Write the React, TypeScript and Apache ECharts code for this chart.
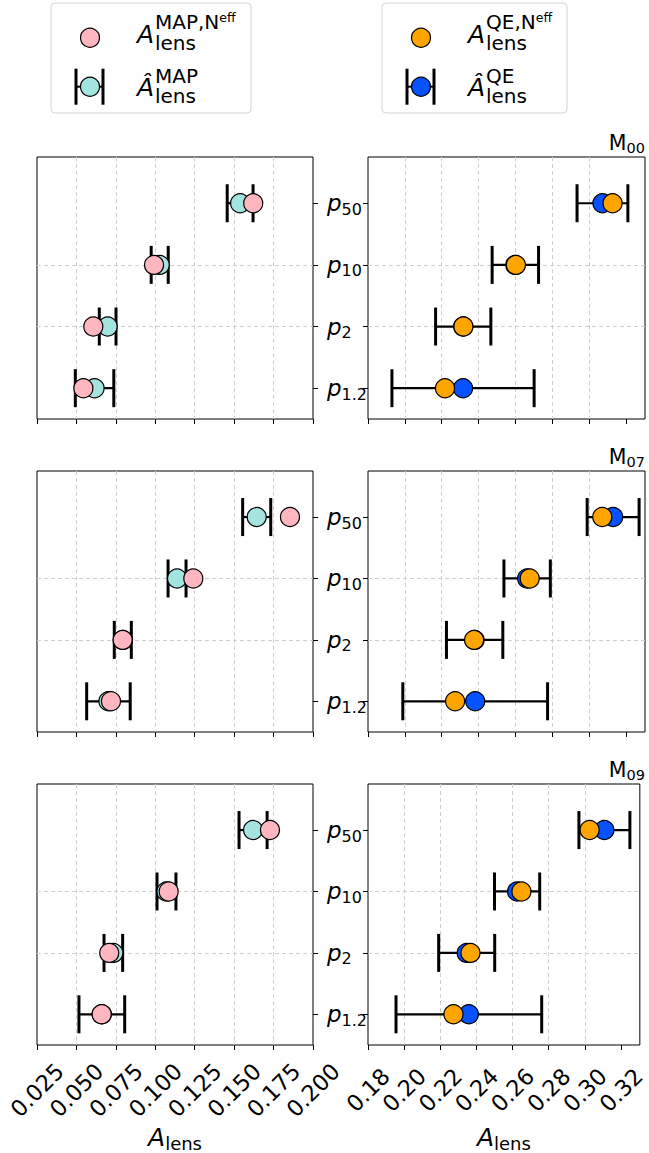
import React, { useEffect, useRef } from "react";
import * as echarts from "echarts";

const FONT = "DejaVu Sans";

// Rows, bottom to top (y positions 0..3)
const pSubscripts = ["1.2", "2", "10", "50"];
const rowValues = [0, 1, 2, 3];

// Tick labels
const mapTicks = [0.025, 0.05, 0.075, 0.1, 0.125, 0.15, 0.175, 0.2];
const qeTicks = [0.18, 0.2, 0.22, 0.24, 0.26, 0.28, 0.3, 0.32];

const models = ["00", "07", "09"];

// MAP estimates: A_lens^{MAP,Neff} and \hat A_lens^{MAP} with 1-sigma errors
const mapNeff00 = [0.0544, 0.0607, 0.0992, 0.1621];
const mapHat00 = [0.0615, 0.0698, 0.1028, 0.1538];
const mapErr00 = [0.0122, 0.0053, 0.0054, 0.0082];

const mapNeff07 = [0.0719, 0.0793, 0.1241, 0.1854];
const mapHat07 = [0.0703, 0.0794, 0.1138, 0.1643];
const mapErr07 = [0.0138, 0.0054, 0.0057, 0.0089];

const mapNeff09 = [0.066, 0.0708, 0.1085, 0.1727];
const mapHat09 = [0.0661, 0.0734, 0.1071, 0.162];
const mapErr09 = [0.0145, 0.0059, 0.006, 0.0089];

// QE estimates
const qeNeff00 = [0.2218, 0.2318, 0.2603, 0.3128];
const qeHat00 = [0.2316, 0.2317, 0.26, 0.3073];
const qeErr00 = [0.0386, 0.015, 0.0126, 0.0138];

const qeNeff07 = [0.2273, 0.2376, 0.2678, 0.3072];
const qeHat07 = [0.2382, 0.2379, 0.2664, 0.3131];
const qeErr07 = [0.0393, 0.0153, 0.0126, 0.0141];

const qeNeff09 = [0.2273, 0.2367, 0.2649, 0.3026];
const qeHat09 = [0.2358, 0.2346, 0.2625, 0.3108];
const qeErr09 = [0.0403, 0.0155, 0.0125, 0.0141];

const mapNeff = [mapNeff00, mapNeff07, mapNeff09];
const mapHat = [mapHat00, mapHat07, mapHat09];
const mapErr = [mapErr00, mapErr07, mapErr09];
const qeNeff = [qeNeff00, qeNeff07, qeNeff09];
const qeHat = [qeHat00, qeHat07, qeHat09];
const qeErr = [qeErr00, qeErr07, qeErr09];

const COLORS = {
  mapNeff: "#ffb6c1",
  mapHat: "#a3e4e1",
  qeNeff: "#ffa500",
  qeHat: "#0652ff",
};

const GRID_TOPS = [157, 471, 784];
const GRID_HEIGHTS = [262, 261, 261];
const LEFT = { left: 37, width: 276 };
const RIGHT = { left: 368, width: 277 };

const splitLineStyle = {
  show: true,
  showMinLine: false,
  showMaxLine: false,
  lineStyle: { color: "#cfcfcf", width: 1, type: [4, 3] },
};

const errorBarItem = (_params: any, api: any) => {
  const y = api.value(2);
  const a = api.coord([api.value(0), y]);
  const b = api.coord([api.value(1), y]);
  const h = 19;
  return {
    type: "group",
    children: [
      {
        type: "line",
        shape: { x1: a[0], y1: a[1], x2: b[0], y2: b[1] },
        style: { stroke: "#000", lineWidth: 2.2 },
      },
      {
        type: "line",
        shape: { x1: a[0], y1: a[1] - h, x2: a[0], y2: a[1] + h },
        style: { stroke: "#000", lineWidth: 3 },
      },
      {
        type: "line",
        shape: { x1: b[0], y1: b[1] - h, x2: b[0], y2: b[1] + h },
        style: { stroke: "#000", lineWidth: 3 },
      },
    ],
  };
};

function txt(text: string, x: number, y: number, fontSize: number, opts: any = {}) {
  return {
    type: "text",
    silent: true,
    style: {
      text,
      x,
      y,
      fill: "#000",
      fontSize,
      fontFamily: FONT,
      fontStyle: opts.italic ? "italic" : "normal",
      textAlign: opts.align || "left",
      align: opts.align || "left",
      textVerticalAlign: "middle",
      verticalAlign: "middle",
      rich: opts.rich,
    },
  };
}

// Superscript with a smaller raised tail, e.g. MAP,N^eff
const supRich = {
  a: { fontSize: 20, fontFamily: FONT, color: "#000", lineHeight: 22 },
  b: {
    fontSize: 12.5,
    fontFamily: FONT,
    color: "#000",
    lineHeight: 12,
    verticalAlign: "top",
  },
};

function legendBox(
  boxX: number,
  boxW: number,
  sup: string,
  neffColor: string,
  hatColor: string
) {
  const mx = boxX + 39;
  const tx = boxX + 86;
  const r1 = 37.7;
  const r2 = 86.7;
  return [
    {
      type: "rect",
      silent: true,
      shape: { x: boxX, y: 3, width: boxW, height: 110, r: 4 },
      style: { fill: "#fff", stroke: "#d5d5d5", lineWidth: 1 },
    },
    {
      type: "circle",
      silent: true,
      shape: { cx: mx, cy: r1, r: 9.5 },
      style: { fill: neffColor, stroke: "#000", lineWidth: 1.2 },
    },
    txt("A", tx, 34.4, 25, { italic: true }),
    txt(`{a|${sup},N}{b|eff}`, tx + 18, 22.1, 20, { rich: supRich }),
    txt("lens", tx + 18, 43.1, 20),
    {
      type: "line",
      silent: true,
      shape: { x1: mx - 14, y1: r2, x2: mx + 13, y2: r2 },
      style: { stroke: "#000", lineWidth: 2 },
    },
    {
      type: "line",
      silent: true,
      shape: { x1: mx - 14, y1: r2 - 18, x2: mx - 14, y2: r2 + 18 },
      style: { stroke: "#000", lineWidth: 3 },
    },
    {
      type: "line",
      silent: true,
      shape: { x1: mx + 13, y1: r2 - 18, x2: mx + 13, y2: r2 + 18 },
      style: { stroke: "#000", lineWidth: 3 },
    },
    {
      type: "circle",
      silent: true,
      shape: { cx: mx, cy: r2, r: 9.5 },
      style: { fill: hatColor, stroke: "#000", lineWidth: 1.2 },
    },
    txt("\u00C2", tx, 87.4, 25, { italic: true }),
    txt(sup, tx + 18, 76.4, 20),
    txt("lens", tx + 18, 96, 20),
  ];
}

const titleRich = {
  m: { fontSize: 20.5, fontFamily: FONT, color: "#000", lineHeight: 24 },
  s: {
    fontSize: 14.5,
    fontFamily: FONT,
    color: "#000",
    lineHeight: 14,
    verticalAlign: "bottom",
  },
};

function buildOption() {
  const grid: any[] = [];
  const xAxis: any[] = [];
  const yAxis: any[] = [];
  const series: any[] = [];
  const graphic: any[] = [];

  GRID_TOPS.forEach((top, i) => {
    const last = i === GRID_TOPS.length - 1;
    [0, 1].forEach((side) => {
      const gi = i * 2 + side;
      const isQE = side === 1;
      const pos = isQE ? RIGHT : LEFT;
      grid.push({
        left: pos.left,
        width: pos.width,
        top,
        height: GRID_HEIGHTS[i],
        show: true,
        borderColor: "#000",
        borderWidth: 1,
        backgroundColor: "transparent",
      });

      const ticks = isQE ? qeTicks : mapTicks;
      xAxis.push({
        type: "value",
        gridIndex: gi,
        position: "bottom",
        min: isQE ? 0.18 : 0.025,
        max: isQE ? 0.3304 : 0.2,
        interval: isQE ? 0.02 : 0.025,
        axisLine: { show: false, onZero: false },
        axisTick: {
          show: true,
          inside: false,
          length: 5,
          customValues: ticks,
          lineStyle: { color: "#000", width: 1 },
        },
        axisLabel: {
          show: last,
          customValues: ticks,
          rotate: 45,
          align: "center",
          verticalAlign: "middle",
          margin: 45,
          interval: 0,
          hideOverlap: false,
          showMinLabel: true,
          showMaxLabel: true,
          fontSize: 22.5,
          fontFamily: FONT,
          color: "#000",
          formatter: (v: number) => v.toFixed(isQE ? 2 : 3),
        },
        splitLine: splitLineStyle,
        name: last ? "{a|A}{s|lens}" : "",
        nameLocation: "middle",
        nameGap: 77,
        nameTextStyle: {
          rich: {
            a: {
              fontSize: 25,
              fontStyle: "italic",
              fontFamily: FONT,
              color: "#000",
              lineHeight: 30,
            },
            s: {
              fontSize: 18,
              fontFamily: FONT,
              color: "#000",
              lineHeight: 18,
              verticalAlign: "bottom",
            },
          },
        },
      });

      yAxis.push({
        type: "value",
        gridIndex: gi,
        min: -0.5,
        max: 3.75,
        position: isQE ? "left" : "right",
        axisLine: { show: false, onZero: false },
        axisTick: {
          show: true,
          inside: false,
          length: 5,
          customValues: rowValues,
          lineStyle: { color: "#000", width: 1 },
        },
        axisLabel: {
          show: isQE,
          customValues: rowValues,
          align: "left",
          margin: 41,
          formatter: (v: number) => `{p|p}{s|${pSubscripts[Math.round(v)]}}`,
          rich: {
            p: {
              fontSize: 23,
              fontStyle: "italic",
              fontFamily: FONT,
              color: "#000",
              lineHeight: 28,
            },
            s: {
              fontSize: 16,
              fontFamily: FONT,
              color: "#000",
              lineHeight: 18,
              verticalAlign: "bottom",
            },
          },
        },
        splitLine: splitLineStyle,
      });

      const hat = isQE ? qeHat[i] : mapHat[i];
      const err = isQE ? qeErr[i] : mapErr[i];
      const neff = isQE ? qeNeff[i] : mapNeff[i];

      series.push({
        type: "custom",
        xAxisIndex: gi,
        yAxisIndex: gi,
        z: 2,
        silent: true,
        renderItem: errorBarItem,
        encode: { x: [0, 1], y: 2 },
        data: hat.map((v, k) => [v - err[k], v + err[k], rowValues[k]]),
      });
      series.push({
        type: "scatter",
        xAxisIndex: gi,
        yAxisIndex: gi,
        z: 3,
        symbol: "circle",
        symbolSize: 19,
        itemStyle: {
          color: isQE ? COLORS.qeHat : COLORS.mapHat,
          borderColor: "#000",
          borderWidth: 1.2,
          opacity: 1,
        },
        data: hat.map((v, k) => [v, rowValues[k]]),
      });
      series.push({
        type: "scatter",
        xAxisIndex: gi,
        yAxisIndex: gi,
        z: 4,
        symbol: "circle",
        symbolSize: 19,
        itemStyle: {
          color: isQE ? COLORS.qeNeff : COLORS.mapNeff,
          borderColor: "#000",
          borderWidth: 1.2,
          opacity: 1,
        },
        data: neff.map((v, k) => [v, rowValues[k]]),
      });
    });

    // Panel label M_xx at the top right of the QE panel
    const off = top - GRID_TOPS[0];
    graphic.push(
      txt(`{m|M}{s|${models[i]}}`, 645, 143 + off, 20.5, {
        align: "right",
        rich: titleRich,
      })
    );
  });

  graphic.push(...legendBox(51, 200, "MAP", COLORS.mapNeff, COLORS.mapHat));
  graphic.push(...legendBox(382, 185, "QE", COLORS.qeNeff, COLORS.qeHat));

  return {
    animation: false,
    backgroundColor: "#fff",
    textStyle: { fontFamily: FONT },
    grid,
    xAxis,
    yAxis,
    series,
    graphic: { elements: graphic },
  };
}

export default function App() {
  const ref = useRef<HTMLDivElement>(null);

  useEffect(() => {
    document.body.style.margin = "0";
    if (!ref.current) return;
    const chart = echarts.init(ref.current, undefined, { renderer: "svg" });
    chart.setOption(buildOption());
    return () => chart.dispose();
  }, []);

  return <div ref={ref} style={{ width: 649, height: 1153 }} />;
}
